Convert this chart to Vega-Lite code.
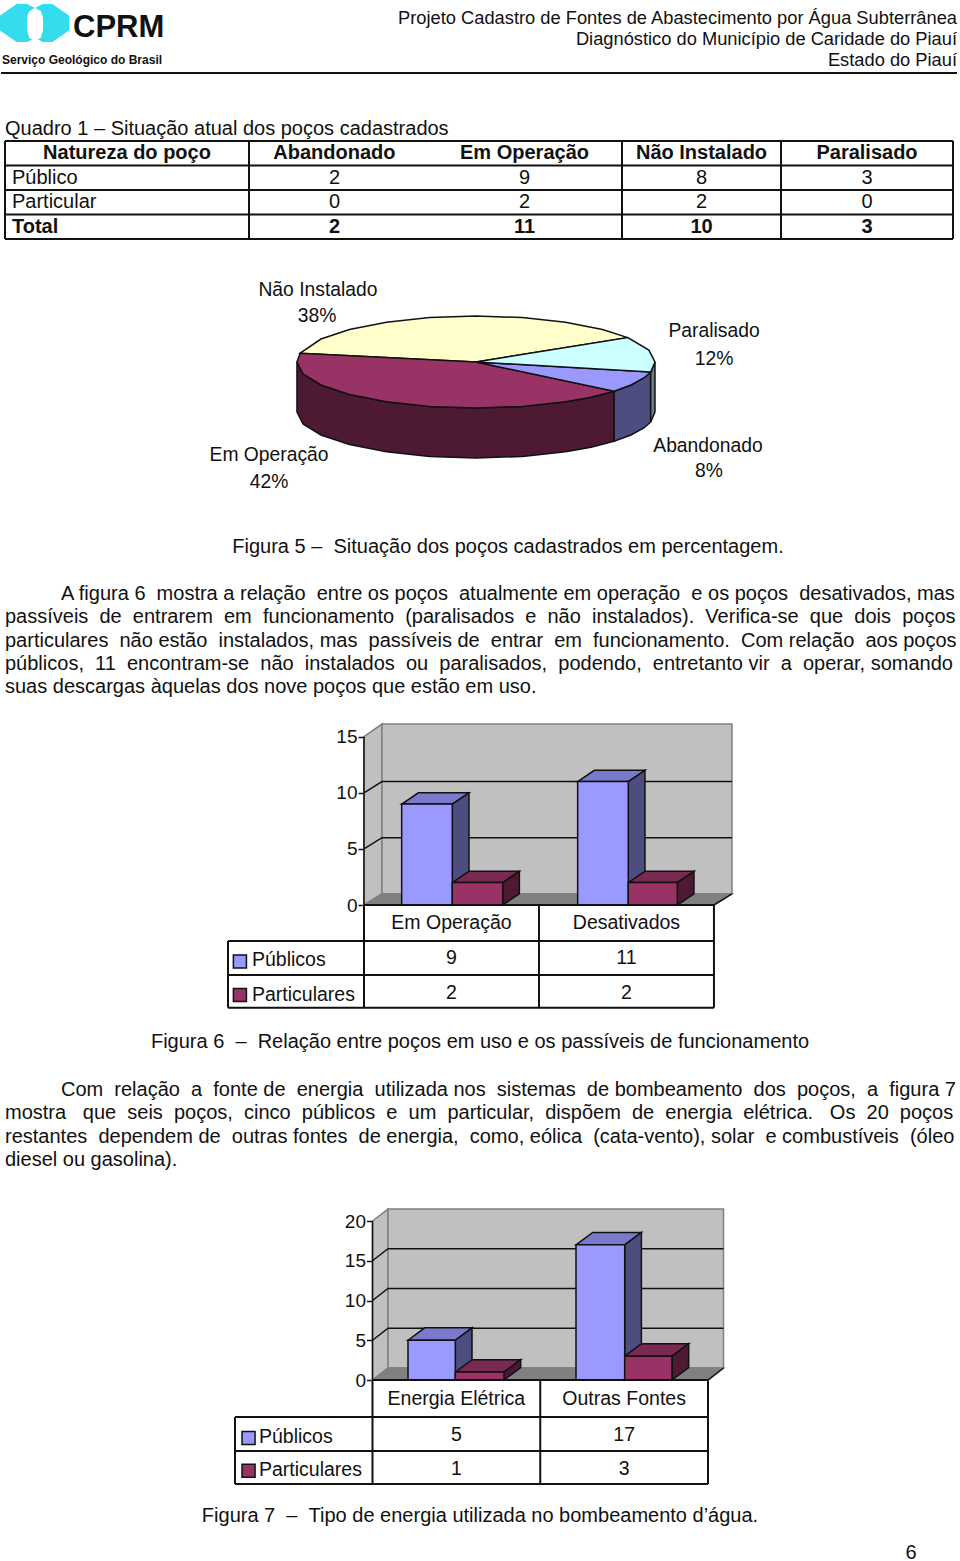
{"$schema":"https://vega.github.io/schema/vega-lite/v6.json","padding":{"left":-3,"top":0,"right":0,"bottom":0},"spacing":0,"bounds":"flush","background":"white","resolve":{"scale":{"fill":"independent"}},"config":{"view":{"stroke":null},"text":{"font":"Liberation Sans","fontSize":20,"color":"#111111","baseline":"middle"},"axis":{"labelFont":"Liberation Sans"}},"vconcat":[
{"width":960,"height":75,"resolve":{"scale":{"y":"independent"}},"encoding":{"x":{"field":"x","type":"quantitative","scale":{"domain":[0,960],"nice":false},"axis":null},"y":{"field":"y","type":"quantitative","scale":{"domain":[75,0],"nice":false},"axis":null}},"layer":[
{"data":{"values":[{"p":"e","i":0,"x":1,"y":16},{"p":"e","i":1,"x":17,"y":5},{"p":"e","i":2,"x":27,"y":5},{"p":"e","i":3,"x":35,"y":9},{"p":"e","i":4,"x":35,"y":37},{"p":"e","i":5,"x":27,"y":41},{"p":"e","i":6,"x":17,"y":41},{"p":"e","i":7,"x":1,"y":30},{"p":"d","i":0,"x":68,"y":16},{"p":"d","i":1,"x":52,"y":5},{"p":"d","i":2,"x":43,"y":5},{"p":"d","i":3,"x":35,"y":9},{"p":"d","i":4,"x":35,"y":37},{"p":"d","i":5,"x":43,"y":41},{"p":"d","i":6,"x":52,"y":41},{"p":"d","i":7,"x":68,"y":30}]},"mark":{"type":"line","interpolate":"linear-closed","fill":"#33ddee","stroke":"#33ddee"},"encoding":{"detail":{"field":"p"},"order":{"field":"i"}}},
{"data":{"values":[{"p":"c","i":0,"x":30,"y":12},{"p":"c","i":1,"x":35,"y":9},{"p":"c","i":2,"x":40,"y":12},{"p":"c","i":3,"x":42,"y":18},{"p":"c","i":4,"x":42,"y":30},{"p":"c","i":5,"x":40,"y":37},{"p":"c","i":6,"x":35,"y":40},{"p":"c","i":7,"x":30,"y":37},{"p":"c","i":8,"x":28,"y":30},{"p":"c","i":9,"x":28,"y":18}]},"mark":{"type":"line","interpolate":"linear-closed","fill":"white","stroke":"white"},"encoding":{"detail":{"field":"p"},"order":{"field":"i"}}},
{"data":{"values":[{"t":"CPRM","x":73,"y":28}]},"mark":{"type":"text","align":"left","fontWeight":"bold","fontSize":31},"encoding":{"text":{"field":"t"}}},
{"data":{"values":[{"t":"Serviço Geológico do Brasil","x":2,"y":60}]},"mark":{"type":"text","align":"left","fontWeight":"bold","fontSize":12},"encoding":{"text":{"field":"t"}}},
{"data":{"values":[{"x":1,"y":73,"x2":957}]},"mark":{"type":"rule","stroke":"#111111","strokeWidth":2},"encoding":{"x2":{"field":"x2"}}},
{"data":{"values":[{"linha":1,"t":"Projeto Cadastro de Fontes de Abastecimento por Água Subterrânea"},{"linha":2,"t":"Diagnóstico do Município de Caridade do Piauí"},{"linha":3,"t":"Estado do Piauí"}]},"mark":{"type":"text","align":"right","fontSize":18.3},"encoding":{"x":{"value":957},"text":{"field":"t"},"y":{"field":"linha","type":"quantitative","scale":{"domain":[0,4],"range":[-2,82],"nice":false,"zero":false},"axis":null}}}
]},
{"width":960,"height":183,"encoding":{"x":{"field":"c","type":"quantitative","scale":{"domain":[0,1,2,3,4,5],"range":[5,249,427,622,781,953],"nice":false},"axis":null},"y":{"field":"r","type":"quantitative","scale":{"domain":[0,4],"range":[66,164],"nice":false,"zero":false},"axis":null}},"layer":[
{"data":{"values":[{"c":0,"r":0,"c2":5,"r2":0},{"c":0,"r":1,"c2":5,"r2":1},{"c":0,"r":2,"c2":5,"r2":2},{"c":0,"r":3,"c2":5,"r2":3},{"c":0,"r":4,"c2":5,"r2":4},{"c":0,"r":0,"c2":0,"r2":4},{"c":1,"r":0,"c2":1,"r2":4},{"c":3,"r":0,"c2":3,"r2":4},{"c":4,"r":0,"c2":4,"r2":4},{"c":5,"r":0,"c2":5,"r2":4}]},"mark":{"type":"rule","stroke":"#111111","strokeWidth":2},"encoding":{"x2":{"field":"c2"},"y2":{"field":"r2"}}},
{"data":{"values":[{"c":0,"r":-0.5,"t":"Quadro 1 – Situação atual dos poços cadastrados"}]},"mark":{"type":"text","align":"left"},"encoding":{"text":{"field":"t"}}},
{"data":{"values":[{"c":0.5,"r":0.5,"t":"Natureza do poço"},{"c":1.48,"r":0.5,"t":"Abandonado"},{"c":2.5,"r":0.5,"t":"Em Operação"},{"c":3.5,"r":0.5,"t":"Não Instalado"},{"c":4.5,"r":0.5,"t":"Paralisado"},{"c":1.48,"r":3.5,"t":"2"},{"c":2.5,"r":3.5,"t":"11"},{"c":3.5,"r":3.5,"t":"10"},{"c":4.5,"r":3.5,"t":"3"}]},"mark":{"type":"text","fontWeight":"bold"},"encoding":{"text":{"field":"t"}}},
{"data":{"values":[{"c":1.48,"r":1.5,"t":"2"},{"c":2.5,"r":1.5,"t":"9"},{"c":3.5,"r":1.5,"t":"8"},{"c":4.5,"r":1.5,"t":"3"},{"c":1.48,"r":2.5,"t":"0"},{"c":2.5,"r":2.5,"t":"2"},{"c":3.5,"r":2.5,"t":"2"},{"c":4.5,"r":2.5,"t":"0"}]},"mark":{"type":"text"},"encoding":{"text":{"field":"t"}}},
{"data":{"values":[{"c":0,"r":1.5,"t":"Público"},{"c":0,"r":2.5,"t":"Particular"}]},"mark":{"type":"text","align":"left","dx":7},"encoding":{"text":{"field":"t"}}},
{"data":{"values":[{"c":0,"r":3.5,"t":"Total"}]},"mark":{"type":"text","align":"left","dx":7,"fontWeight":"bold"},"encoding":{"text":{"field":"t"}}}
]},
{"width":960,"height":272,"encoding":{"x":{"field":"x","type":"quantitative","scale":{"domain":[-2.659,2.704],"nice":false,"zero":false},"axis":null},"y":{"field":"y","type":"quantitative","scale":{"domain":[-3.652,2.261],"nice":false,"zero":false},"axis":null}},"layer":[
{"data":{"values":[
{"f":"sEm","cor":"Em Operação lado","i":0,"x":-1,"y":0},{"f":"sEm","cor":"Em Operação lado","i":1,"x":-0.966,"y":-0.259},{"f":"sEm","cor":"Em Operação lado","i":2,"x":-0.866,"y":-0.5},{"f":"sEm","cor":"Em Operação lado","i":3,"x":-0.707,"y":-0.707},{"f":"sEm","cor":"Em Operação lado","i":4,"x":-0.5,"y":-0.866},{"f":"sEm","cor":"Em Operação lado","i":5,"x":-0.259,"y":-0.966},{"f":"sEm","cor":"Em Operação lado","i":6,"x":0,"y":-1},{"f":"sEm","cor":"Em Operação lado","i":7,"x":0.259,"y":-0.966},{"f":"sEm","cor":"Em Operação lado","i":8,"x":0.5,"y":-0.866},{"f":"sEm","cor":"Em Operação lado","i":9,"x":0.643,"y":-0.766},{"f":"sEm","cor":"Em Operação lado","i":10,"x":0.772,"y":-0.636},{"f":"sEm","cor":"Em Operação lado","i":11,"x":0.772,"y":-1.723},{"f":"sEm","cor":"Em Operação lado","i":12,"x":0.643,"y":-1.853},{"f":"sEm","cor":"Em Operação lado","i":13,"x":0.5,"y":-1.953},{"f":"sEm","cor":"Em Operação lado","i":14,"x":0.259,"y":-2.053},{"f":"sEm","cor":"Em Operação lado","i":15,"x":0,"y":-2.087},{"f":"sEm","cor":"Em Operação lado","i":16,"x":-0.259,"y":-2.053},{"f":"sEm","cor":"Em Operação lado","i":17,"x":-0.5,"y":-1.953},{"f":"sEm","cor":"Em Operação lado","i":18,"x":-0.707,"y":-1.794},{"f":"sEm","cor":"Em Operação lado","i":19,"x":-0.866,"y":-1.587},{"f":"sEm","cor":"Em Operação lado","i":20,"x":-0.966,"y":-1.346},{"f":"sEm","cor":"Em Operação lado","i":21,"x":-1,"y":-1.087},
{"f":"sAb","cor":"Abandonado lado","i":0,"x":0.772,"y":-0.636},{"f":"sAb","cor":"Abandonado lado","i":1,"x":0.866,"y":-0.5},{"f":"sAb","cor":"Abandonado lado","i":2,"x":0.94,"y":-0.342},{"f":"sAb","cor":"Abandonado lado","i":3,"x":0.976,"y":-0.218},{"f":"sAb","cor":"Abandonado lado","i":4,"x":0.976,"y":-1.305},{"f":"sAb","cor":"Abandonado lado","i":5,"x":0.94,"y":-1.429},{"f":"sAb","cor":"Abandonado lado","i":6,"x":0.866,"y":-1.587},{"f":"sAb","cor":"Abandonado lado","i":7,"x":0.772,"y":-1.723},
{"f":"sPa","cor":"Paralisado lado","i":0,"x":0.976,"y":-0.218},{"f":"sPa","cor":"Paralisado lado","i":1,"x":1,"y":0},{"f":"sPa","cor":"Paralisado lado","i":2,"x":1,"y":-1.087},{"f":"sPa","cor":"Paralisado lado","i":3,"x":0.976,"y":-1.305},
{"f":"tNI","cor":"Não Instalado","i":0,"x":0,"y":0},{"f":"tNI","cor":"Não Instalado","i":1,"x":0.848,"y":0.53},{"f":"tNI","cor":"Não Instalado","i":2,"x":0.707,"y":0.707},{"f":"tNI","cor":"Não Instalado","i":3,"x":0.5,"y":0.866},{"f":"tNI","cor":"Não Instalado","i":4,"x":0.259,"y":0.966},{"f":"tNI","cor":"Não Instalado","i":5,"x":0,"y":1},{"f":"tNI","cor":"Não Instalado","i":6,"x":-0.259,"y":0.966},{"f":"tNI","cor":"Não Instalado","i":7,"x":-0.5,"y":0.866},{"f":"tNI","cor":"Não Instalado","i":8,"x":-0.707,"y":0.707},{"f":"tNI","cor":"Não Instalado","i":9,"x":-0.866,"y":0.5},{"f":"tNI","cor":"Não Instalado","i":10,"x":-0.982,"y":0.191},
{"f":"tEm","cor":"Em Operação","i":0,"x":0,"y":0},{"f":"tEm","cor":"Em Operação","i":1,"x":-0.982,"y":0.191},{"f":"tEm","cor":"Em Operação","i":2,"x":-1,"y":0},{"f":"tEm","cor":"Em Operação","i":3,"x":-0.966,"y":-0.259},{"f":"tEm","cor":"Em Operação","i":4,"x":-0.866,"y":-0.5},{"f":"tEm","cor":"Em Operação","i":5,"x":-0.707,"y":-0.707},{"f":"tEm","cor":"Em Operação","i":6,"x":-0.5,"y":-0.866},{"f":"tEm","cor":"Em Operação","i":7,"x":-0.259,"y":-0.966},{"f":"tEm","cor":"Em Operação","i":8,"x":0,"y":-1},{"f":"tEm","cor":"Em Operação","i":9,"x":0.259,"y":-0.966},{"f":"tEm","cor":"Em Operação","i":10,"x":0.5,"y":-0.866},{"f":"tEm","cor":"Em Operação","i":11,"x":0.643,"y":-0.766},{"f":"tEm","cor":"Em Operação","i":12,"x":0.772,"y":-0.636},
{"f":"tAb","cor":"Abandonado","i":0,"x":0,"y":0},{"f":"tAb","cor":"Abandonado","i":1,"x":0.772,"y":-0.636},{"f":"tAb","cor":"Abandonado","i":2,"x":0.866,"y":-0.5},{"f":"tAb","cor":"Abandonado","i":3,"x":0.94,"y":-0.342},{"f":"tAb","cor":"Abandonado","i":4,"x":0.976,"y":-0.218},
{"f":"tPa","cor":"Paralisado","i":0,"x":0,"y":0},{"f":"tPa","cor":"Paralisado","i":1,"x":0.976,"y":-0.218},{"f":"tPa","cor":"Paralisado","i":2,"x":1,"y":0},{"f":"tPa","cor":"Paralisado","i":3,"x":0.966,"y":0.259},{"f":"tPa","cor":"Paralisado","i":4,"x":0.848,"y":0.53}
]},"mark":{"type":"line","interpolate":"linear-closed","stroke":"#111111","strokeWidth":1.5},"encoding":{"detail":{"field":"f"},"order":{"field":"i"},"fill":{"field":"cor","type":"nominal","legend":null,"scale":{"domain":["Não Instalado","Paralisado","Abandonado","Em Operação","Em Operação lado","Abandonado lado","Paralisado lado"],"range":["#ffffcc","#ccffff","#9999ff","#993366","#4d1933","#4d4d80","#668080"]}}}},
{"data":{"values":[{"x":-0.883,"y":1.565,"t":"Não Instalado"},{"x":-0.888,"y":1.0,"t":"38%"},{"x":1.33,"y":0.674,"t":"Paralisado"},{"x":1.33,"y":0.065,"t":"12%"},{"x":1.296,"y":-1.826,"t":"Abandonado"},{"x":1.302,"y":-2.37,"t":"8%"},{"x":-1.156,"y":-2.02,"t":"Em Operação"},{"x":-1.156,"y":-2.609,"t":"42%"}]},"mark":{"type":"text","fontSize":19.3},"encoding":{"text":{"field":"t"}}}
]},
{"width":960,"height":34,"data":{"values":[{"t":"Figura 5 – \u00a0Situação dos poços cadastrados em percentagem."}]},"mark":{"type":"text","dx":28},"encoding":{"text":{"field":"t"}}},
{"width":960,"height":146,"data":{"values":[{"linha":1,"m":"recuo","t":"A figura 6 \u00a0mostra a relação \u00a0entre os poços \u00a0atualmente em operação \u00a0e os poços \u00a0desativados, mas"},{"linha":2,"m":"margem","t":"passíveis \u00a0de \u00a0entrarem \u00a0em \u00a0funcionamento \u00a0(paralisados \u00a0e \u00a0não \u00a0instalados). \u00a0Verifica-se \u00a0que \u00a0dois \u00a0poços"},{"linha":3,"m":"margem","t":"particulares \u00a0não estão \u00a0instalados, mas \u00a0passíveis de \u00a0entrar \u00a0em \u00a0funcionamento. \u00a0Com relação \u00a0aos poços"},{"linha":4,"m":"margem","t":"públicos, \u00a011 \u00a0encontram-se \u00a0não \u00a0instalados \u00a0ou \u00a0paralisados, \u00a0podendo, \u00a0entretanto vir \u00a0a \u00a0operar, somando"},{"linha":5,"m":"margem","t":"suas descargas àquelas dos nove poços que estão em uso."}]},"mark":{"type":"text","align":"left"},"encoding":{"text":{"field":"t"},"x":{"field":"m","type":"ordinal","scale":{"type":"point","padding":0,"domain":["margem","recuo"],"range":[5,61]},"axis":null},"y":{"field":"linha","type":"quantitative","scale":{"domain":[1,5],"range":[30,123],"nice":false,"zero":false},"axis":null}}},
{"width":960,"height":195,"encoding":{"x":{"field":"x","type":"quantitative","scale":{"domain":[-2.08,3.406],"nice":false,"zero":false},"axis":null},"y":{"field":"y","type":"quantitative","axis":{"values":[0,5,10,15],"offset":-364,"domain":false,"grid":false,"title":null,"tickSize":6,"tickWidth":1.5,"tickColor":"#111111","labelFontSize":19,"labelColor":"#111111","labelPadding":1},"scale":{"domain":[0,17.38],"nice":false}}},"layer":[
{"data":{"values":[{"f":"p","cor":"Parede","i":0,"x":0,"y":0},{"f":"p","cor":"Parede","i":1,"x":0.103,"y":1},{"f":"p","cor":"Parede","i":2,"x":0.103,"y":16.13},{"f":"p","cor":"Parede","i":3,"x":0,"y":15},{"f":"q","cor":"Parede","i":0,"x":0.103,"y":1},{"f":"q","cor":"Parede","i":1,"x":2.103,"y":1},{"f":"q","cor":"Parede","i":2,"x":2.103,"y":16.13},{"f":"q","cor":"Parede","i":3,"x":0.103,"y":16.13},{"f":"r","cor":"Piso","i":0,"x":0,"y":0},{"f":"r","cor":"Piso","i":1,"x":0.103,"y":1},{"f":"r","cor":"Piso","i":2,"x":2.103,"y":1},{"f":"r","cor":"Piso","i":3,"x":2,"y":0}]},"mark":{"type":"line","interpolate":"linear-closed","stroke":"#808080","strokeWidth":1.5},"encoding":{"detail":{"field":"f"},"order":{"field":"i"},"fill":{"field":"cor","type":"nominal","legend":null,"scale":{"domain":["Parede","Piso","Públicos","Públicos topo","Públicos lado","Particulares","Particulares topo","Particulares lado"],"range":["#c0c0c0","#808080","#9999ff","#7a7acc","#4d4d80","#993366","#7a2952","#4d1933"]}}}},
{"data":{"values":[{"g":5,"i":0,"x":0,"y":5},{"g":5,"i":1,"x":0.103,"y":6},{"g":5,"i":2,"x":2.103,"y":6},{"g":10,"i":0,"x":0,"y":10},{"g":10,"i":1,"x":0.103,"y":11},{"g":10,"i":2,"x":2.103,"y":11},{"g":0,"i":0,"x":0,"y":0},{"g":0,"i":1,"x":0,"y":15},{"g":-1,"i":0,"x":0,"y":0},{"g":-1,"i":1,"x":2,"y":0},{"g":-1,"i":2,"x":2.103,"y":1}]},"mark":{"type":"line","stroke":"#111111","strokeWidth":1.5},"encoding":{"detail":{"field":"g"},"order":{"field":"i"}}},
{"data":{"values":[
{"f":"a","cor":"Públicos topo","i":0,"x":0.2154,"y":9},{"f":"a","cor":"Públicos topo","i":1,"x":0.3108,"y":10},{"f":"a","cor":"Públicos topo","i":2,"x":0.6,"y":10},{"f":"a","cor":"Públicos topo","i":3,"x":0.5046,"y":9},
{"f":"b","cor":"Públicos lado","i":0,"x":0.5046,"y":9},{"f":"b","cor":"Públicos lado","i":1,"x":0.6,"y":10},{"f":"b","cor":"Públicos lado","i":2,"x":0.6,"y":1},{"f":"b","cor":"Públicos lado","i":3,"x":0.5046,"y":0},
{"f":"c","cor":"Particulares topo","i":0,"x":0.5046,"y":2},{"f":"c","cor":"Particulares topo","i":1,"x":0.6,"y":3},{"f":"c","cor":"Particulares topo","i":2,"x":0.888,"y":3},{"f":"c","cor":"Particulares topo","i":3,"x":0.7926,"y":2},
{"f":"d","cor":"Particulares lado","i":0,"x":0.7926,"y":2},{"f":"d","cor":"Particulares lado","i":1,"x":0.888,"y":3},{"f":"d","cor":"Particulares lado","i":2,"x":0.888,"y":1},{"f":"d","cor":"Particulares lado","i":3,"x":0.7926,"y":0},
{"f":"e","cor":"Públicos topo","i":0,"x":1.2211,"y":11},{"f":"e","cor":"Públicos topo","i":1,"x":1.3165,"y":12},{"f":"e","cor":"Públicos topo","i":2,"x":1.6057,"y":12},{"f":"e","cor":"Públicos topo","i":3,"x":1.5103,"y":11},
{"f":"g","cor":"Públicos lado","i":0,"x":1.5103,"y":11},{"f":"g","cor":"Públicos lado","i":1,"x":1.6057,"y":12},{"f":"g","cor":"Públicos lado","i":2,"x":1.6057,"y":1},{"f":"g","cor":"Públicos lado","i":3,"x":1.5103,"y":0},
{"f":"h","cor":"Particulares topo","i":0,"x":1.5103,"y":2},{"f":"h","cor":"Particulares topo","i":1,"x":1.6057,"y":3},{"f":"h","cor":"Particulares topo","i":2,"x":1.8857,"y":3},{"f":"h","cor":"Particulares topo","i":3,"x":1.7903,"y":2},
{"f":"j","cor":"Particulares lado","i":0,"x":1.7903,"y":2},{"f":"j","cor":"Particulares lado","i":1,"x":1.8857,"y":3},{"f":"j","cor":"Particulares lado","i":2,"x":1.8857,"y":1},{"f":"j","cor":"Particulares lado","i":3,"x":1.7903,"y":0}
]},"mark":{"type":"line","interpolate":"linear-closed","stroke":"#111111","strokeWidth":1.5},"encoding":{"detail":{"field":"f"},"order":{"field":"i"},"fill":{"field":"cor","type":"nominal","legend":null,"scale":{"domain":["Parede","Piso","Públicos","Públicos topo","Públicos lado","Particulares","Particulares topo","Particulares lado"],"range":["#c0c0c0","#808080","#9999ff","#7a7acc","#4d4d80","#993366","#7a2952","#4d1933"]}}}},
{"data":{"values":[{"serie":"Públicos","categoria":"Em Operação","x":0.2154,"x2":0.5046,"y":9},{"serie":"Particulares","categoria":"Em Operação","x":0.5046,"x2":0.7926,"y":2},{"serie":"Públicos","categoria":"Desativados","x":1.2211,"x2":1.5103,"y":11},{"serie":"Particulares","categoria":"Desativados","x":1.5103,"x2":1.7903,"y":2}]},"mark":{"type":"rect","stroke":"#111111","strokeWidth":1.5},"encoding":{"x2":{"field":"x2"},"y2":{"datum":0},"fill":{"field":"serie","type":"nominal","legend":null,"scale":{"domain":["Parede","Piso","Públicos","Públicos topo","Públicos lado","Particulares","Particulares topo","Particulares lado"],"range":["#c0c0c0","#808080","#9999ff","#7a7acc","#4d4d80","#993366","#7a2952","#4d1933"]}}}}
]},
{"width":960,"height":119,"encoding":{"x":{"field":"x","type":"quantitative","scale":{"domain":[-2.08,3.406],"nice":false,"zero":false},"axis":null},"y":{"field":"l","type":"quantitative","scale":{"domain":[0,1,2,3],"range":[0,36,70,102.7],"nice":false},"axis":null}},"layer":[
{"data":{"values":[{"x":0,"l":0,"x2":2,"l2":0},{"x":-0.777,"l":1,"x2":2,"l2":1},{"x":-0.777,"l":2,"x2":2,"l2":2},{"x":-0.777,"l":3,"x2":2,"l2":3},{"x":0,"l":0,"x2":0,"l2":3},{"x":1,"l":0,"x2":1,"l2":3},{"x":2,"l":0,"x2":2,"l2":3},{"x":-0.777,"l":1,"x2":-0.777,"l2":3}]},"mark":{"type":"rule","stroke":"#111111","strokeWidth":2},"encoding":{"x2":{"field":"x2"},"y2":{"field":"l2"}}},
{"data":{"values":[{"x":0.5,"l":0.5,"t":"Em Operação"},{"x":1.5,"l":0.5,"t":"Desativados"},{"x":0.5,"l":1.5,"t":"9"},{"x":1.5,"l":1.5,"t":"11"},{"x":0.5,"l":2.55,"t":"2"},{"x":1.5,"l":2.55,"t":"2"}]},"mark":{"type":"text","fontSize":19.5},"encoding":{"text":{"field":"t"}}},
{"data":{"values":[{"x":-0.64,"l":1.5,"t":"Públicos"},{"x":-0.64,"l":2.55,"t":"Particulares"}]},"mark":{"type":"text","align":"left","dy":2,"fontSize":19.5},"encoding":{"text":{"field":"t"}}},
{"data":{"values":[{"x":-0.709,"l":1.6,"serie":"Públicos"},{"x":-0.709,"l":2.61,"serie":"Particulares"}]},"mark":{"type":"square","size":170,"opacity":1,"stroke":"#111111","strokeWidth":1.5},"encoding":{"fill":{"field":"serie","type":"nominal","legend":null,"scale":{"domain":["Públicos","Particulares"],"range":["#9999ff","#993366"]}}}}
]},
{"width":960,"height":36,"data":{"values":[{"t":"Figura 6 \u00a0– \u00a0Relação entre poços em uso e os passíveis de funcionamento"}]},"mark":{"type":"text"},"encoding":{"text":{"field":"t"}}},
{"width":960,"height":125,"data":{"values":[{"linha":1,"m":"recuo","t":"Com \u00a0relação \u00a0a \u00a0fonte de \u00a0energia \u00a0utilizada nos \u00a0sistemas \u00a0de bombeamento \u00a0dos \u00a0poços, \u00a0a \u00a0figura 7"},{"linha":2,"m":"margem","t":"mostra \u00a0\u00a0que \u00a0seis \u00a0poços, \u00a0cinco \u00a0públicos \u00a0e \u00a0um \u00a0particular, \u00a0dispõem \u00a0de \u00a0energia \u00a0elétrica. \u00a0\u00a0Os \u00a020 \u00a0poços"},{"linha":3,"m":"margem","t":"restantes \u00a0dependem de \u00a0outras fontes \u00a0de energia, \u00a0como, eólica \u00a0(cata-vento), solar \u00a0e combustíveis \u00a0(óleo"},{"linha":4,"m":"margem","t":"diesel ou gasolina)."}]},"mark":{"type":"text","align":"left"},"encoding":{"text":{"field":"t"},"x":{"field":"m","type":"ordinal","scale":{"type":"point","padding":0,"domain":["margem","recuo"],"range":[5,61]},"axis":null},"y":{"field":"linha","type":"quantitative","scale":{"domain":[1,4],"range":[30,100],"nice":false,"zero":false},"axis":null}}},
{"width":960,"height":195,"encoding":{"x":{"field":"x","type":"quantitative","scale":{"domain":[-2.2206,3.5022],"nice":false,"zero":false},"axis":null},"y":{"field":"y","type":"quantitative","axis":{"values":[0,5,10,15,20],"offset":-372.5,"domain":false,"grid":false,"title":null,"tickSize":6,"tickWidth":1.5,"tickColor":"#111111","labelFontSize":19,"labelColor":"#111111","labelPadding":1},"scale":{"domain":[0,24.53],"nice":false}}},"layer":[
{"data":{"values":[{"f":"p","cor":"Parede","i":0,"x":0,"y":0},{"f":"p","cor":"Parede","i":1,"x":0.0924,"y":1.51},{"f":"p","cor":"Parede","i":2,"x":0.0924,"y":21.5},{"f":"p","cor":"Parede","i":3,"x":0,"y":20},{"f":"q","cor":"Parede","i":0,"x":0.0924,"y":1.51},{"f":"q","cor":"Parede","i":1,"x":2.0924,"y":1.51},{"f":"q","cor":"Parede","i":2,"x":2.0924,"y":21.5},{"f":"q","cor":"Parede","i":3,"x":0.0924,"y":21.5},{"f":"r","cor":"Piso","i":0,"x":0,"y":0},{"f":"r","cor":"Piso","i":1,"x":0.0924,"y":1.51},{"f":"r","cor":"Piso","i":2,"x":2.0924,"y":1.51},{"f":"r","cor":"Piso","i":3,"x":2,"y":0}]},"mark":{"type":"line","interpolate":"linear-closed","stroke":"#808080","strokeWidth":1.5},"encoding":{"detail":{"field":"f"},"order":{"field":"i"},"fill":{"field":"cor","type":"nominal","legend":null,"scale":{"domain":["Parede","Piso","Públicos","Públicos topo","Públicos lado","Particulares","Particulares topo","Particulares lado"],"range":["#c0c0c0","#808080","#9999ff","#7a7acc","#4d4d80","#993366","#7a2952","#4d1933"]}}}},
{"data":{"values":[{"g":5,"i":0,"x":0,"y":5},{"g":5,"i":1,"x":0.0924,"y":6.51},{"g":5,"i":2,"x":2.0924,"y":6.51},{"g":10,"i":0,"x":0,"y":10},{"g":10,"i":1,"x":0.0924,"y":11.51},{"g":10,"i":2,"x":2.0924,"y":11.51},{"g":15,"i":0,"x":0,"y":15},{"g":15,"i":1,"x":0.0924,"y":16.51},{"g":15,"i":2,"x":2.0924,"y":16.51},{"g":0,"i":0,"x":0,"y":0},{"g":0,"i":1,"x":0,"y":20},{"g":-1,"i":0,"x":0,"y":0},{"g":-1,"i":1,"x":2,"y":0},{"g":-1,"i":2,"x":2.0924,"y":1.51}]},"mark":{"type":"line","stroke":"#111111","strokeWidth":1.5},"encoding":{"detail":{"field":"g"},"order":{"field":"i"}}},
{"data":{"values":[
{"f":"a","cor":"Públicos topo","i":0,"x":0.2116,"y":5},{"f":"a","cor":"Públicos topo","i":1,"x":0.3111,"y":6.56},{"f":"a","cor":"Públicos topo","i":2,"x":0.5931,"y":6.56},{"f":"a","cor":"Públicos topo","i":3,"x":0.4936,"y":5},
{"f":"b","cor":"Públicos lado","i":0,"x":0.4936,"y":5},{"f":"b","cor":"Públicos lado","i":1,"x":0.5931,"y":6.56},{"f":"b","cor":"Públicos lado","i":2,"x":0.5931,"y":1.56},{"f":"b","cor":"Públicos lado","i":3,"x":0.4936,"y":0},
{"f":"c","cor":"Particulares topo","i":0,"x":0.4936,"y":1},{"f":"c","cor":"Particulares topo","i":1,"x":0.5931,"y":2.56},{"f":"c","cor":"Particulares topo","i":2,"x":0.8834,"y":2.56},{"f":"c","cor":"Particulares topo","i":3,"x":0.7839,"y":1},
{"f":"d","cor":"Particulares lado","i":0,"x":0.7839,"y":1},{"f":"d","cor":"Particulares lado","i":1,"x":0.8834,"y":2.56},{"f":"d","cor":"Particulares lado","i":2,"x":0.8834,"y":1.56},{"f":"d","cor":"Particulares lado","i":3,"x":0.7839,"y":0},
{"f":"e","cor":"Públicos topo","i":0,"x":1.2131,"y":17},{"f":"e","cor":"Públicos topo","i":1,"x":1.3126,"y":18.56},{"f":"e","cor":"Públicos topo","i":2,"x":1.6029,"y":18.56},{"f":"e","cor":"Públicos topo","i":3,"x":1.5034,"y":17},
{"f":"g","cor":"Públicos lado","i":0,"x":1.5034,"y":17},{"f":"g","cor":"Públicos lado","i":1,"x":1.6029,"y":18.56},{"f":"g","cor":"Públicos lado","i":2,"x":1.6029,"y":1.56},{"f":"g","cor":"Públicos lado","i":3,"x":1.5034,"y":0},
{"f":"h","cor":"Particulares topo","i":0,"x":1.5034,"y":3},{"f":"h","cor":"Particulares topo","i":1,"x":1.6029,"y":4.56},{"f":"h","cor":"Particulares topo","i":2,"x":1.8849,"y":4.56},{"f":"h","cor":"Particulares topo","i":3,"x":1.7854,"y":3},
{"f":"j","cor":"Particulares lado","i":0,"x":1.7854,"y":3},{"f":"j","cor":"Particulares lado","i":1,"x":1.8849,"y":4.56},{"f":"j","cor":"Particulares lado","i":2,"x":1.8849,"y":1.56},{"f":"j","cor":"Particulares lado","i":3,"x":1.7854,"y":0}
]},"mark":{"type":"line","interpolate":"linear-closed","stroke":"#111111","strokeWidth":1.5},"encoding":{"detail":{"field":"f"},"order":{"field":"i"},"fill":{"field":"cor","type":"nominal","legend":null,"scale":{"domain":["Parede","Piso","Públicos","Públicos topo","Públicos lado","Particulares","Particulares topo","Particulares lado"],"range":["#c0c0c0","#808080","#9999ff","#7a7acc","#4d4d80","#993366","#7a2952","#4d1933"]}}}},
{"data":{"values":[{"serie":"Públicos","categoria":"Energia Elétrica","x":0.2116,"x2":0.4936,"y":5},{"serie":"Particulares","categoria":"Energia Elétrica","x":0.4936,"x2":0.7839,"y":1},{"serie":"Públicos","categoria":"Outras Fontes","x":1.2131,"x2":1.5034,"y":17},{"serie":"Particulares","categoria":"Outras Fontes","x":1.5034,"x2":1.7854,"y":3}]},"mark":{"type":"rect","stroke":"#111111","strokeWidth":1.5},"encoding":{"x2":{"field":"x2"},"y2":{"datum":0},"fill":{"field":"serie","type":"nominal","legend":null,"scale":{"domain":["Parede","Piso","Públicos","Públicos topo","Públicos lado","Particulares","Particulares topo","Particulares lado"],"range":["#c0c0c0","#808080","#9999ff","#7a7acc","#4d4d80","#993366","#7a2952","#4d1933"]}}}}
]},
{"width":960,"height":118,"encoding":{"x":{"field":"x","type":"quantitative","scale":{"domain":[-2.2206,3.5022],"nice":false,"zero":false},"axis":null},"y":{"field":"l","type":"quantitative","scale":{"domain":[0,1,2,3],"range":[0,37,71,104],"nice":false},"axis":null}},"layer":[
{"data":{"values":[{"x":0,"l":0,"x2":2,"l2":0},{"x":-0.8197,"l":1,"x2":2,"l2":1},{"x":-0.8197,"l":2,"x2":2,"l2":2},{"x":-0.8197,"l":3,"x2":2,"l2":3},{"x":0,"l":0,"x2":0,"l2":3},{"x":1,"l":0,"x2":1,"l2":3},{"x":2,"l":0,"x2":2,"l2":3},{"x":-0.8197,"l":1,"x2":-0.8197,"l2":3}]},"mark":{"type":"rule","stroke":"#111111","strokeWidth":2},"encoding":{"x2":{"field":"x2"},"y2":{"field":"l2"}}},
{"data":{"values":[{"x":0.5,"l":0.5,"t":"Energia Elétrica"},{"x":1.5,"l":0.5,"t":"Outras Fontes"},{"x":0.5,"l":1.53,"t":"5"},{"x":1.5,"l":1.53,"t":"17"},{"x":0.5,"l":2.55,"t":"1"},{"x":1.5,"l":2.55,"t":"3"}]},"mark":{"type":"text","fontSize":19.5},"encoding":{"text":{"field":"t"}}},
{"data":{"values":[{"x":-0.6766,"l":1.53,"t":"Públicos"},{"x":-0.6766,"l":2.53,"t":"Particulares"}]},"mark":{"type":"text","align":"left","dy":2,"fontSize":19.5},"encoding":{"text":{"field":"t"}}},
{"data":{"values":[{"x":-0.739,"l":1.62,"serie":"Públicos"},{"x":-0.739,"l":2.6,"serie":"Particulares"}]},"mark":{"type":"square","size":170,"opacity":1,"stroke":"#111111","strokeWidth":1.5},"encoding":{"fill":{"field":"serie","type":"nominal","legend":null,"scale":{"domain":["Públicos","Particulares"],"range":["#9999ff","#993366"]}}}}
]},
{"width":960,"height":36,"data":{"values":[{"t":"Figura 7 \u00a0– \u00a0Tipo de energia utilizada no bombeamento d’água."}]},"mark":{"type":"text"},"encoding":{"text":{"field":"t"}}},
{"width":960,"height":27,"data":{"values":[{"t":"6"}]},"mark":{"type":"text","dx":431,"dy":5},"encoding":{"text":{"field":"t"}}}
]}
